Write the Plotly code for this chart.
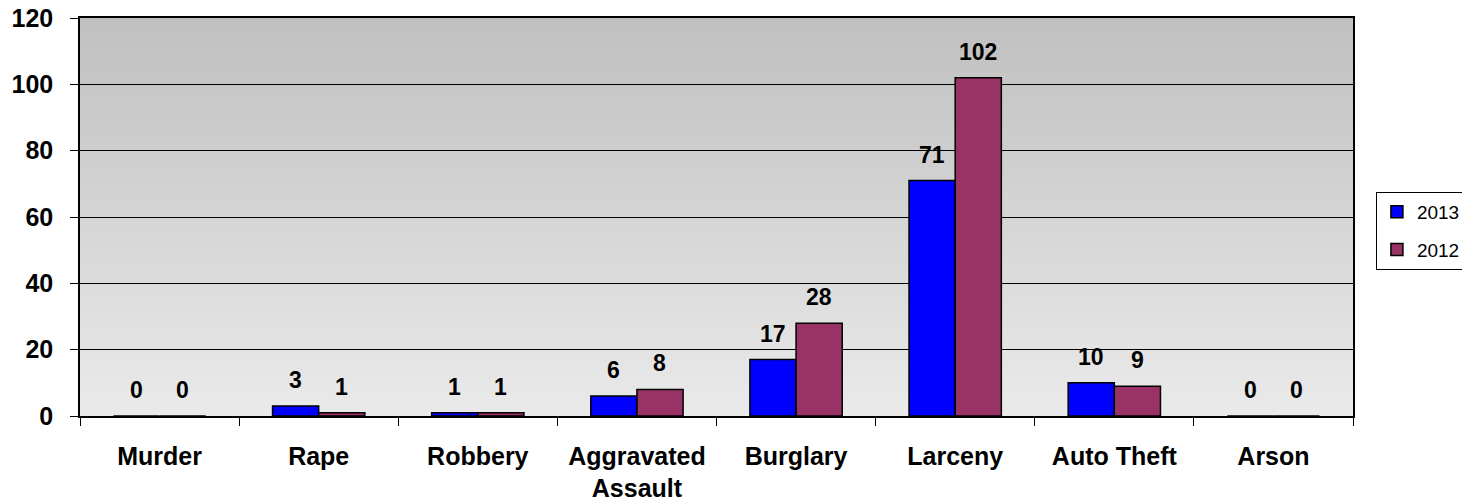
import plotly.graph_objects as go

categories = ["Murder", "Rape", "Robbery", "Aggravated<br>Assault", "Burglary", "Larceny", "Auto Theft", "Arson"]
values_2013 = [0, 3, 1, 6, 17, 71, 10, 0]
values_2012 = [0, 1, 1, 8, 28, 102, 9, 0]
y_ticks = [0, 20, 40, 60, 80, 100, 120]

FONT = "Arial, Liberation Sans, sans-serif"

fig = go.Figure()
fig.add_trace(go.Bar(name="2013", x=categories, y=values_2013, legendgroup="a",
                     marker=dict(color="#0000FF", line=dict(color="black", width=1.5))))
fig.add_trace(go.Bar(name="2012", x=categories, y=values_2012, legendgroup="b",
                     marker=dict(color="#993366", line=dict(color="black", width=1.5))))

# value labels
for vals, shift in ((values_2013, -23), (values_2012, 23)):
    for c, v in zip(categories, vals):
        fig.add_annotation(x=c, y=v, text=str(v), showarrow=False, xshift=shift,
                           yanchor="bottom", yshift=11,
                           font=dict(family=FONT, size=23, color="black", weight="bold"))

# gradient background
n = 80
top = 0xC0
bot = 0xEA
for i in range(n):
    t = i / (n - 1)
    c = int(round(bot + (top - bot) * t))
    fig.add_shape(type="rect", xref="x domain", yref="y domain",
                  x0=0, x1=1, y0=i / n, y1=(i + 1) / n + 0.002,
                  fillcolor=f"rgb({c},{c},{c})", line=dict(width=0), layer="below")

fig.update_layout(
    width=1462, height=492,
    margin=dict(l=72, r=117, t=10, b=84, autoexpand=False),
    barmode="group", bargap=0.42, bargroupgap=0,
    plot_bgcolor="rgba(0,0,0,0)", paper_bgcolor="white",
    font=dict(family=FONT, color="black"),
    showlegend=True,
    legend=dict(x=1.018, y=0.465, xanchor="left", yanchor="middle",
                bordercolor="black", borderwidth=1, bgcolor="white",
                font=dict(family=FONT, size=19, color="black"),
                traceorder="grouped", tracegroupgap=10, itemwidth=30),
)
fig.update_xaxes(showline=True, linecolor="black", linewidth=1.5, mirror=True,
                 ticks="outside", tickson="boundaries", ticklen=8, tickcolor="black",
                 ticklabelstandoff=17, automargin=False, ticklabeloverflow="allow",
                 tickfont=dict(family=FONT, size=25, color="black", weight="bold"),
                 showgrid=False)
fig.update_yaxes(range=[0, 120], tickvals=y_ticks, showline=True, linecolor="black",
                 linewidth=1.5, mirror=True, ticks="outside", ticklen=8, tickcolor="black",
                 ticklabelstandoff=12, automargin=False, ticklabeloverflow="allow",
                 showgrid=True, gridcolor="black", gridwidth=1, zeroline=False,
                 tickfont=dict(family=FONT, size=25, color="black", weight="bold"))

fig.write_html("out.html")
